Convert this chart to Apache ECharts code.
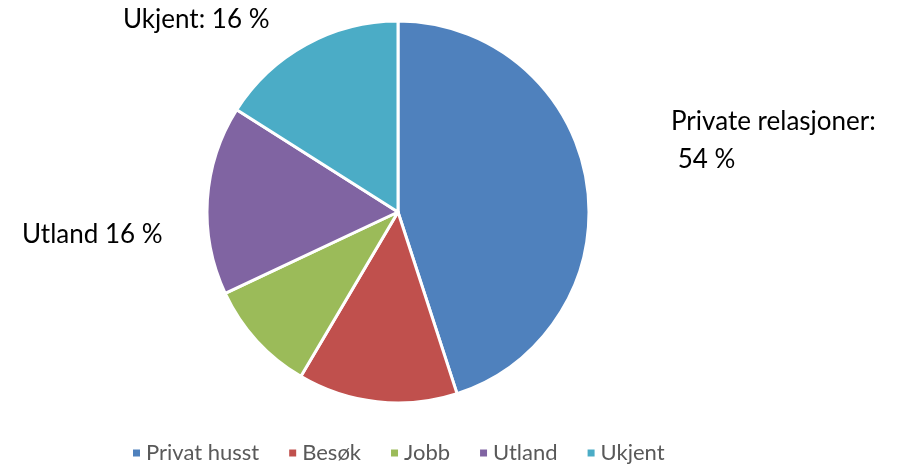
<!DOCTYPE html>
<html>
<head>
<meta charset="utf-8">
<script src="https://cdn.jsdelivr.net/npm/echarts@6/dist/echarts.min.js"></script>
<style>
  html, body { margin: 0; padding: 0; background: #fff; }
  #chart { width: 917px; height: 469px; }
</style>
</head>
<body>
<div id="chart"></div>
<script>
const categories = ['Privat husst', 'Besøk', 'Jobb', 'Utland', 'Ukjent'];
const values = [45, 13.5, 9.5, 16, 16];
const colors = ['#4f81bd', '#c0504d', '#9bbb59', '#8064a2', '#4bacc6'];
const annotations = ['Ukjent: 16 %', 'Private relasjoner:\n 54 %', 'Utland 16 %'];

const chart = echarts.init(document.getElementById('chart'));

const labelStyle = {
  fill: '#000',
  font: '26px Lato, "Open Sans", sans-serif',
  lineHeight: 38
};

chart.setOption({
  animation: false,
  color: colors,
  legend: {
    top: 442,
    left: 131,
    padding: 0,
    itemWidth: 9,
    itemHeight: 9,
    itemGap: 28,
    icon: 'rect',
    textStyle: { color: '#595959', fontSize: 22, fontFamily: 'Lato, "Open Sans", sans-serif' },
    data: categories
  },
  graphic: [
    { type: 'text', left: 123, top: 1, style: Object.assign({ text: annotations[0] }, labelStyle) },
    { type: 'text', left: 671, top: 103, style: Object.assign({ text: annotations[1] }, labelStyle) },
    { type: 'text', left: 22, top: 216, style: Object.assign({ text: annotations[2] }, labelStyle) }
  ],
  series: [{
    type: 'pie',
    center: [398, 212],
    radius: 191,
    startAngle: 90,
    clockwise: true,
    label: { show: false },
    labelLine: { show: false },
    itemStyle: { borderColor: '#fff', borderWidth: 3 },
    data: categories.map((name, i) => ({ name, value: values[i] }))
  }]
});
</script>
</body>
</html>
